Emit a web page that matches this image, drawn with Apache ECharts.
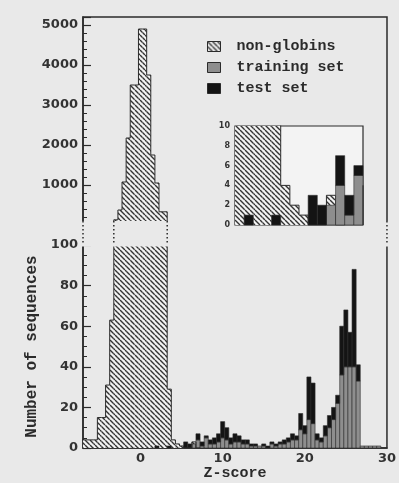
<!DOCTYPE html>
<html>
<head>
<meta charset="utf-8">
<title>Z-score histogram</title>
<script src="https://cdn.jsdelivr.net/npm/echarts@6/dist/echarts.min.js"></script>
<style>
  html, body { margin: 0; padding: 0; background: #e9e9e9; }
  #chart { width: 399px; height: 483px; }
</style>
</head>
<body>
<div id="chart"></div>
<script>
// histogram bin width (Z units)
const binWidth = 0.5

// non-globins: bin centres and counts
const ngCenters = [-7, -6.5, -6, -5.5, -5, -4.5, -4, -3.5, -3, -2.5, -2, -1.5, -1, -0.5,
  0, 0.5, 1, 1.5, 2, 2.5, 3, 3.5, 4, 4.5, 5, 5.5, 6, 6.5, 7]
const ngCounts = [4, 4, 4, 4, 15, 15, 31, 63, 130, 375, 1075, 2175, 3500, 3500,
  4900, 4900, 3750, 1750, 1050, 330, 330, 29, 4, 2, 1, 0, 0, 3, 0]

// globins: bin centres, training set and test set counts (stacked)
const globCenters = [1.5, 2, 2.5, 3, 3.5, 4, 4.5, 5, 5.5, 6, 6.5, 7, 7.5, 8, 8.5, 9, 9.5,
  10, 10.5, 11, 11.5, 12, 12.5, 13, 13.5, 14, 14.5, 15, 15.5, 16, 16.5, 17, 17.5, 18, 18.5,
  19, 19.5, 20, 20.5, 21, 21.5, 22, 22.5, 23, 23.5, 24, 24.5, 25, 25.5, 26, 26.5, 27, 27.5,
  28, 28.5, 29]
const trainCounts = [0, 0, 0, 0, 0, 0, 0, 0, 0, 0, 2, 4, 1, 5, 2, 2, 3,
  5, 4, 2, 3, 3, 2, 2, 1, 1, 1, 1, 0, 2, 1, 2, 2, 3, 4,
  4, 9, 7, 14, 12, 4, 3, 6, 10, 14, 22, 36, 40, 40, 40, 33, 1, 1,
  1, 1, 1]
const testCounts = [0, 1, 0, 0, 1, 0, 0, 0, 3, 2, 0, 3, 2, 1, 2, 3, 4,
  8, 6, 3, 4, 3, 2, 2, 1, 1, 0, 1, 1, 1, 1, 1, 2, 2, 3,
  2, 8, 4, 21, 20, 3, 2, 5, 6, 6, 4, 24, 28, 17, 48, 8, 0, 0,
  0, 0, 0]

// axis ranges and tick labels
const zRange = [-7, 30]
const insetZRange = [1.25, 8.25]
const xTickLabels = [0, 10, 20, 30]

const INK = '#2b2b2b'
const GRAY = '#8e8e8e'
const BLACK = '#141414'
const BG = '#e9e9e9'
const MONO = '"Liberation Mono", "DejaVu Sans Mono", monospace'
const SANS = '"DejaVu Sans", sans-serif'

function makeHatch() {
  const s = 5
  const cv = document.createElement('canvas')
  cv.width = s
  cv.height = s
  const ctx = cv.getContext('2d')
  ctx.fillStyle = '#f2f2f2'
  ctx.fillRect(0, 0, s, s)
  ctx.strokeStyle = '#333'
  ctx.lineWidth = 1.4
  ctx.beginPath()
  for (const k of [-s, 0, s]) {
    ctx.moveTo(0, k)
    ctx.lineTo(s, k + s)
  }
  ctx.stroke()
  return cv
}
const hatchFill = { image: makeHatch(), repeat: 'repeat' }

// step outline of the non-globin histogram
const ngPoints = [[ngCenters[0] - binWidth / 2, 0]]
  .concat(ngCenters.map((c, i) => [c - binWidth / 2, ngCounts[i]]))
  .concat([[ngCenters[ngCenters.length - 1] + binWidth / 2, 0]])
const ngData = ngCenters.map((c, i) => [c, ngCounts[i]])
const globData = globCenters.map((c, i) => [c, trainCounts[i], testCounts[i]])

function binRect(params, api, c, lo, hi) {
  const p0 = api.coord([c - binWidth / 2, lo])
  const p1 = api.coord([c + binWidth / 2, hi])
  return echarts.graphic.clipRectByRect(
    { x: p0[0], y: p1[1], width: p1[0] - p0[0], height: p0[1] - p1[1] },
    params.coordSys)
}

function renderHatch(params, api) {
  const v = api.value(1)
  if (v <= 0) return
  const shape = binRect(params, api, api.value(0), 0, v)
  if (!shape) return
  return { type: 'rect', shape: shape, style: { fill: hatchFill } }
}

function makeRender(layer) {
  return function (params, api) {
    const tr = api.value(1)
    const te = api.value(2)
    const lo = layer === 'train' ? 0 : tr
    const hi = layer === 'train' ? tr : tr + te
    if (hi <= lo) return
    const shape = binRect(params, api, api.value(0), lo, hi)
    if (!shape) return
    return {
      type: 'rect',
      shape: shape,
      style: { fill: layer === 'train' ? GRAY : BLACK, stroke: INK, lineWidth: 0.6 }
    }
  }
}

function ngSeries(idx, z) {
  return [{
    type: 'custom', name: 'non-globins', xAxisIndex: idx, yAxisIndex: idx,
    data: ngData, renderItem: renderHatch, itemStyle: { color: INK },
    silent: true, z: z, animation: false
  }, {
    type: 'line', name: 'non-globins', xAxisIndex: idx, yAxisIndex: idx,
    data: ngPoints, step: 'end', symbol: 'none', showSymbol: false, clip: true,
    lineStyle: { color: INK, width: 1 }, itemStyle: { color: INK },
    silent: true, z: z, animation: false
  }]
}

function globSeries(idx, layer, z) {
  return {
    type: 'custom', name: layer === 'train' ? 'training set' : 'test set',
    xAxisIndex: idx, yAxisIndex: idx, data: globData,
    renderItem: makeRender(layer),
    itemStyle: { color: layer === 'train' ? GRAY : BLACK },
    silent: true, z: z, animation: false
  }
}

const tickLabel = { fontFamily: SANS, fontWeight: 'bold', fontSize: 13, color: '#333', margin: 5 }
const axisLine = { show: true, onZero: false, lineStyle: { color: INK, width: 1.5 } }

const chart = echarts.init(document.getElementById('chart'), null, { renderer: 'canvas' })

const option = {
  animation: false,
  backgroundColor: BG,
  grid: [
    { left: 83, right: 12, top: 17, height: 208, show: true, borderColor: INK, borderWidth: 1.5 },
    { left: 83, right: 12, top: 245, height: 203, show: true, borderColor: INK, borderWidth: 1.5 },
    { left: 235, top: 126, width: 128, height: 99, show: true, borderColor: INK, borderWidth: 1.2,
      backgroundColor: '#f3f3f3', z: 4 }
  ],
  legend: {
    orient: 'vertical', left: 202, top: 34, itemWidth: 13, itemHeight: 10, itemGap: 6,
    selectedMode: false,
    textStyle: { fontFamily: MONO, fontWeight: 'bold', fontSize: 15, color: INK, padding: [0, 0, 0, 11] },
    data: [
      { name: 'non-globins', icon: 'rect', itemStyle: { color: hatchFill, borderColor: INK, borderWidth: 1 } },
      { name: 'training set', icon: 'rect', itemStyle: { color: GRAY, borderColor: INK, borderWidth: 1 } },
      { name: 'test set', icon: 'rect', itemStyle: { color: BLACK, borderColor: INK, borderWidth: 1 } }
    ]
  },
  xAxis: [
    { type: 'value', gridIndex: 0, min: zRange[0], max: zRange[1], show: false },
    {
      type: 'value', gridIndex: 1, min: zRange[0], max: zRange[1], interval: 1,
      axisLine: axisLine, axisTick: { show: false }, splitLine: { show: false },
      axisLabel: Object.assign({}, tickLabel, {
        interval: 0, margin: 4,
        formatter: v => xTickLabels.indexOf(v) >= 0 ? String(v) : ''
      }),
      name: 'Z-score', nameLocation: 'middle', nameGap: 18,
      nameTextStyle: { fontFamily: MONO, fontWeight: 'bold', fontSize: 15, color: INK }
    },
    { type: 'value', gridIndex: 2, min: insetZRange[0], max: insetZRange[1], show: false, z: 5 }
  ],
  yAxis: [
    {
      type: 'value', gridIndex: 0, min: 0, max: 5200, interval: 1000,
      axisLine: axisLine, splitLine: { show: false },
      axisTick: { inside: true, length: 8, lineStyle: { color: INK, width: 1.2 } },
      minorTick: { show: true, splitNumber: 5, length: 4, lineStyle: { color: INK, width: 1 } },
      axisLabel: Object.assign({}, tickLabel, { showMaxLabel: false, formatter: v => v === 0 ? '' : String(v) })
    },
    {
      type: 'value', gridIndex: 1, min: 0, max: 100, interval: 20,
      axisLine: axisLine, splitLine: { show: false },
      axisTick: { inside: true, length: 8, lineStyle: { color: INK, width: 1.2 } },
      minorTick: { show: true, splitNumber: 4, length: 4, lineStyle: { color: INK, width: 1 } },
      axisLabel: tickLabel,
      name: 'Number of sequences', nameLocation: 'middle', nameGap: 36,
      nameTextStyle: { fontFamily: MONO, fontWeight: 'bold', fontSize: 16, color: INK }
    },
    {
      type: 'value', gridIndex: 2, min: 0, max: 10, interval: 2, z: 5,
      axisLine: { show: false }, axisTick: { show: false }, splitLine: { show: false },
      axisLabel: { fontFamily: SANS, fontWeight: 'bold', fontSize: 8, color: '#333', margin: 5 }
    }
  ],
  series: [].concat(
    ngSeries(0, 2),
    ngSeries(1, 2),
    [globSeries(1, 'train', 2), globSeries(1, 'test', 2)],
    ngSeries(2, 6),
    [globSeries(2, 'train', 7), globSeries(2, 'test', 7)]
  )
}
chart.setOption(option)

// axis break between the two panels
const yTop = chart.convertToPixel({ yAxisIndex: 0 }, 100)
const yBot = chart.convertToPixel({ yAxisIndex: 1 }, 100)
const xl = chart.convertToPixel({ xAxisIndex: 1 }, zRange[0])
const xr = chart.convertToPixel({ xAxisIndex: 1 }, zRange[1])
const tall = ngCenters.filter((c, i) => ngCounts[i] > 100)
const el = chart.convertToPixel({ xAxisIndex: 1 }, tall[0] - binWidth / 2)
const er = chart.convertToPixel({ xAxisIndex: 1 }, tall[tall.length - 1] + binWidth / 2)
const dotted = x => ({
  type: 'line', z: 3, silent: true,
  shape: { x1: x, y1: yTop, x2: x, y2: yBot },
  style: { stroke: INK, lineWidth: 1.5, lineDash: [1.5, 2.5] }
})
chart.setOption({
  graphic: [
    { type: 'rect', z: 3, silent: true,
      shape: { x: xl - 2, y: yTop, width: xr - xl + 4, height: yBot - yTop + 1.5 },
      style: { fill: BG } },
    dotted(xl), dotted(xr), dotted(el), dotted(er)
  ]
})
</script>
</body>
</html>
